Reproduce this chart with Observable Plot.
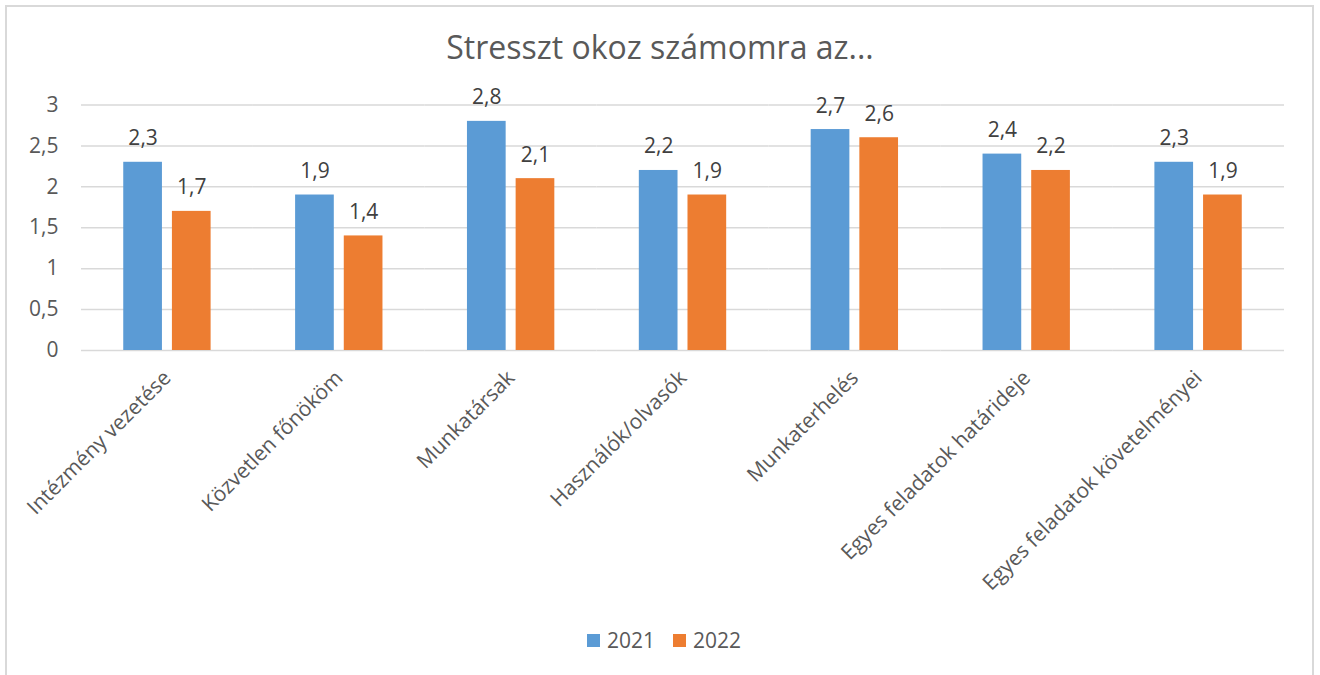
<!DOCTYPE html>
<html>
<head>
<meta charset="utf-8">
<script src="https://cdn.jsdelivr.net/npm/d3@7"></script>
<script src="https://cdn.jsdelivr.net/npm/@observablehq/plot@0.6"></script>
<style>
  html, body { margin: 0; padding: 0; background: #fff; }
  body { width: 1320px; height: 675px; overflow: hidden; position: relative; font-family: "Open Sans", sans-serif; }
  #frame { position: absolute; left: 5px; top: 5px; width: 1305px; height: 700px; border: 2px solid #d9d9d9; pointer-events: none; }
  #title { height: 90px; box-sizing: border-box; padding-top: 31px; line-height: 32px; font-size: 32px; color: #595959; text-align: center; }
  #chart svg { display: block; }
  #legend { height: 40px; box-sizing: border-box; padding-left: 8px; display: flex; justify-content: center; align-items: center; gap: 18px; font-size: 21px; color: #595959; }
  .item { display: flex; align-items: center; gap: 7px; }
  .sw { width: 13px; height: 13px; display: inline-block; }
</style>
</head>
<body>
<div id="frame"></div>
<div id="title">Stresszt okoz számomra az...</div>
<div id="chart"></div>
<div id="legend"></div>
<script>
const categories = ["Intézmény vezetése", "Közvetlen főnököm", "Munkatársak", "Használók/olvasók", "Munkaterhelés", "Egyes feladatok határideje", "Egyes feladatok követelményei"];
const years = ["2021", "2022"];
const values2021 = [2.3, 1.9, 2.8, 2.2, 2.7, 2.4, 2.3];
const values2022 = [1.7, 1.4, 2.1, 1.9, 2.6, 2.2, 1.9];
const yTicks = [0, 0.5, 1, 1.5, 2, 2.5, 3];
const colors = ["#5B9BD5", "#ED7D31"];

const data = categories.flatMap((c, i) => [
  {category: c, year: years[0], value: values2021[i]},
  {category: c, year: years[1], value: values2022[i]}
]);
const fmt = v => String(v).replace(".", ",");

const chart = Plot.plot({
  width: 1320,
  height: 530,
  marginTop: 14.5,
  marginLeft: 81,
  marginRight: 36,
  marginBottom: 270,
  style: {fontFamily: "Open Sans", fontSize: "21px", color: "#595959", background: "transparent", overflow: "visible"},
  fx: {domain: categories, padding: 0, round: false, label: null},
  x: {domain: years, paddingInner: 0.205, paddingOuter: 0.868, round: false, axis: null},
  y: {domain: [0, 3], label: null},
  color: {domain: years, range: colors},
  marks: [
    Plot.gridY(yTicks, {stroke: "#d9d9d9", strokeOpacity: 1, strokeWidth: 1.5}),
    Plot.barY(data, {fx: "category", x: "year", y: "value", fill: "year"}),
    Plot.text(data, {fx: "category", x: "year", y: "value", text: d => fmt(d.value), lineAnchor: "bottom", dy: -17, fill: "#404040", fontSize: 21}),
    Plot.axisY(yTicks, {anchor: "left", facetAnchor: "left", tickSize: 0, tickPadding: 23, tickFormat: fmt, label: null, fill: "#595959", fontSize: 21}),
    Plot.axisFx({anchor: "bottom", tickRotate: -45, tickSize: 0, tickPadding: 24, label: null, fill: "#595959", fontSize: 21})
  ]
});
document.getElementById("chart").appendChild(chart);

const legend = document.getElementById("legend");
years.forEach((y, i) => {
  const item = document.createElement("div");
  item.className = "item";
  item.innerHTML = `<span class="sw" style="background:${colors[i]}"></span><span>${y}</span>`;
  legend.appendChild(item);
});
</script>
</body>
</html>
